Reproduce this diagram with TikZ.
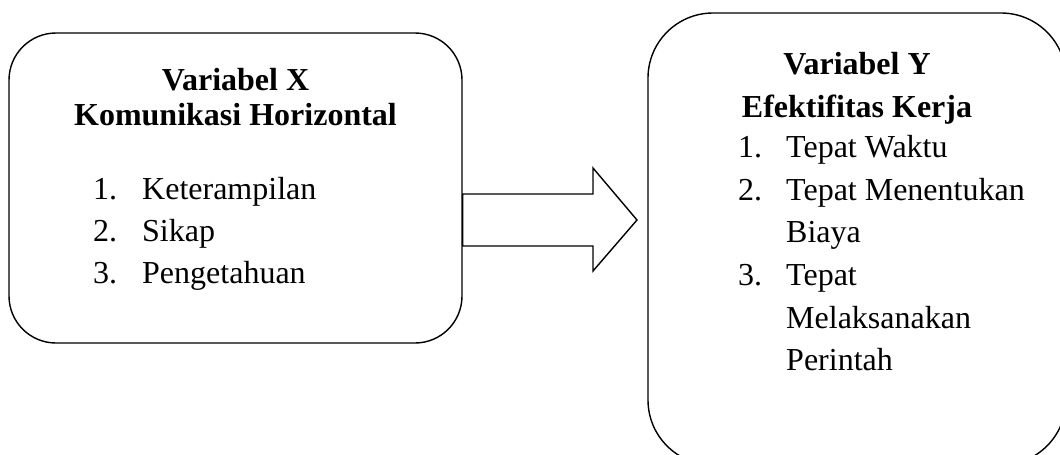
\documentclass[tikz,border=0pt]{standalone}
\usepackage{fontspec}
\setmainfont{Liberation Serif}
\begin{document}
\begin{tikzpicture}[x=1pt,y=-1pt,
  box/.style={draw,line width=1.4pt,inner sep=0pt},
  txt/.style={inner sep=0pt,font=\fontsize{32}{38}\selectfont},
  ttl/.style={inner sep=0pt,anchor=base,font=\fontsize{32}{38}\selectfont\bfseries},
  item/.style={txt,anchor=base west},
  blockarrow/.style={draw,line width=1.4pt,line join=miter}]
\useasboundingbox (0,0) rectangle (1060,455);
\clip (0,0) rectangle (1060,455);
% boxes
\node[box,rounded corners=47pt,minimum width=453pt,minimum height=310pt] (bx) at (235.5,188) {};
\node[box,rounded corners=65pt,minimum width=418pt,minimum height=452pt] (by) at (857,239) {};
% block arrow from left box to right box
\coordinate (a0) at (bx.east |- 0,194);
\coordinate (a6) at (bx.east |- 0,246);
\coordinate (tip) at (637,220);
\draw[blockarrow] (a0) -- (593,194) -- (593,168) -- (tip) -- (593,271) -- (593,246) -- (a6) -- cycle;
% left texts
\node[ttl] (tx1) at (bx.center |- 0,90) {Variabel X};
\node[ttl] (tx2) at (bx.center |- 0,125) {Komunikasi Horizontal};
\node[item] (nx1) at (93,199) {1.};
\node[item] (ix1) at (142,199) {Keterampilan};
\node[item] (nx2) at (93,241) {2.};
\node[item] (ix2) at (142,241) {Sikap};
\node[item] (nx3) at (93,283) {3.};
\node[item] (ix3) at (142,283) {Pengetahuan};
% right texts
\node[ttl] (ty1) at (by.center |- 0,74) {Variabel Y};
\node[ttl] (ty2) at (by.center |- 0,117) {Efektifitas Kerja};
\node[item] (ny1) at (738,157) {1.};
\node[item] (iy1) at (786,157) {Tepat Waktu};
\node[item] (ny2) at (738,200) {2.};
\node[item] (iy2) at (786,200) {Tepat Menentukan};
\node[item] (iy2b) at (786,242) {Biaya};
\node[item] (ny3) at (738,285) {3.};
\node[item] (iy3) at (786,285) {Tepat};
\node[item] (iy3b) at (786,328) {Melaksanakan};
\node[item] (iy3c) at (786,370) {Perintah};
\end{tikzpicture}
\end{document}
